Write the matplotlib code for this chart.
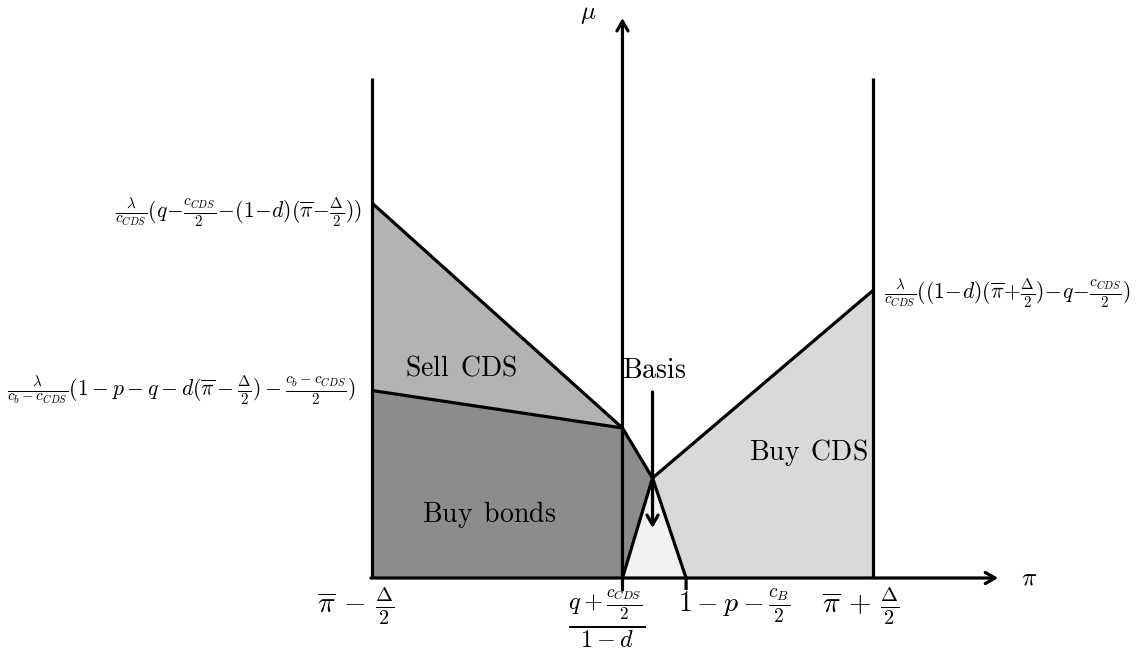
import matplotlib
matplotlib.use("Agg")
import matplotlib.pyplot as plt
from matplotlib.patches import Polygon

plt.rcParams['mathtext.fontset'] = 'cm'
plt.rcParams['font.family'] = 'serif'
plt.rcParams['font.serif'] = ['DejaVu Serif']

# ---- data (diagram coordinates: pi on x, mu on y) ----
pi_lo, pi_star, pi_vertex, pi_basis, pi_hi = 0.0, 5.0, 5.6, 6.27, 10.0
pi_axis_end = 12.5
mu_sell_top = 7.5       # value at pi_lo of upper boundary
mu_bonds_top = 3.75     # value at pi_lo of lower boundary
mu_kink = 3.0           # value at pi_star
mu_vertex = 2.0         # basis vertex
mu_buy_top = 5.75       # value at pi_hi
mu_wall_top = 10.0
mu_axis_end = 11.2
mu_basis_arrow = (3.72, 1.0)
tick_len = 0.24

xtick_pos = [pi_lo, pi_star, pi_basis, pi_hi]
xtick_labels = [r'$\overline{\pi}\,-\,\frac{\Delta}{2}$',
                r'$\frac{q+\frac{c_{CDS}}{2}}{1-d}$',
                r'$1-p-\frac{c_B}{2}$',
                r'$\overline{\pi}\,+\,\frac{\Delta}{2}$']
region_names = ['Sell CDS', 'Basis', 'Buy CDS', 'Buy bonds']
left_top_label = r'$\frac{\lambda}{c_{CDS}}(q\!-\!\frac{c_{CDS}}{2}\!-\!(1\!-\!d)(\overline{\pi}\!-\!\frac{\Delta}{2}))$'
left_bot_label = r'$\frac{\lambda}{c_b-c_{CDS}}(1-p-q-d(\overline{\pi}-\frac{\Delta}{2})-\frac{c_b-c_{CDS}}{2})$'
right_label = r'$\frac{\lambda}{c_{CDS}}((1\!-\!d)(\overline{\pi}\!+\!\frac{\Delta}{2})\!-\!q\!-\!\frac{c_{CDS}}{2})$'

fig = plt.figure(figsize=(11.47, 6.57), dpi=100)
ax = fig.add_axes([0, 0, 1, 1])
ax.set_xlim(-7.425, 15.47)
ax.set_ylim(-1.58, 11.56)
ax.axis('off')

lw = 2.3
col_sell, col_bonds, col_buy, col_basis = '#b3b3b3', '#8c8c8c', '#d9d9d9', '#f2f2f2'

# regions
ax.add_patch(Polygon([(pi_lo, mu_sell_top), (pi_star, mu_kink), (pi_lo, mu_bonds_top)],
                     closed=True, fc=col_sell, ec='none', zorder=1))
ax.add_patch(Polygon([(pi_lo, 0), (pi_lo, mu_bonds_top), (pi_star, mu_kink),
                      (pi_vertex, mu_vertex), (pi_star, 0)],
                     closed=True, fc=col_bonds, ec='none', zorder=1))
ax.add_patch(Polygon([(pi_vertex, mu_vertex), (pi_hi, mu_buy_top), (pi_hi, 0), (pi_basis, 0)],
                     closed=True, fc=col_buy, ec='none', zorder=1))
ax.add_patch(Polygon([(pi_star, 0), (pi_vertex, mu_vertex), (pi_basis, 0)],
                     closed=True, fc=col_basis, ec='none', zorder=1))

kw = dict(color='black', lw=lw, solid_capstyle='butt', solid_joinstyle='miter', zorder=3)
# walls
ax.plot([pi_lo, pi_lo], [0, mu_wall_top], **kw)
ax.plot([pi_hi, pi_hi], [0, mu_wall_top], **kw)
# boundaries
ax.plot([pi_lo, pi_star, pi_vertex, pi_basis, pi_basis],
        [mu_sell_top, mu_kink, mu_vertex, 0, -tick_len], **kw)
ax.plot([pi_lo, pi_star], [mu_bonds_top, mu_kink], **kw)
ax.plot([pi_star, pi_vertex, pi_hi], [0, mu_vertex, mu_buy_top], **kw)

# axes arrows
akw = dict(arrowstyle='->,head_length=0.7,head_width=0.4', lw=lw, color='black',
           shrinkA=0, shrinkB=0)
ax.annotate('', xy=(pi_axis_end, 0), xytext=(pi_lo - 0.02, 0), arrowprops=akw, zorder=4)
ax.annotate('', xy=(pi_star, mu_axis_end), xytext=(pi_star, -tick_len), arrowprops=akw, zorder=4)
# basis arrow
ax.annotate('', xy=(pi_vertex, mu_basis_arrow[1]), xytext=(pi_vertex, mu_basis_arrow[0]),
            arrowprops=akw, zorder=4)

# axis labels
ax.text(13.11, 0.0, r'$\pi$', fontsize=18, ha='center', va='center')
ax.text(4.31, 11.28, r'$\mu$', fontsize=18, ha='center', va='center')

# tick labels
tick_text_pos = [(-0.32, -0.56), (4.69, -0.81), (7.23, -0.56), (9.76, -0.56)]
tick_sizes = [21, 25, 20, 21]
for (x, y), lab, fs in zip(tick_text_pos, xtick_labels, tick_sizes):
    ax.text(x, y, lab, fontsize=fs, ha='center', va='center')

# region names
region_pos = [(1.78, 4.2), (5.63, 4.14), (8.72, 2.52), (2.34, 1.28)]
for (x, y), name in zip(region_pos, region_names):
    ax.text(x, y, r'$\mathrm{' + name.replace(' ', r'\ \,') + '}$', fontsize=20,
            ha='center', va='center')

# boundary labels
ax.text(-0.2, 7.32, left_top_label, fontsize=15.5, ha='right', va='center')
ax.text(-0.34, 3.76, left_bot_label, fontsize=15.5, ha='right', va='center')
ax.text(10.22, 5.7, right_label, fontsize=15.5, ha='left', va='center')

fig.savefig('out.png', dpi=100)
